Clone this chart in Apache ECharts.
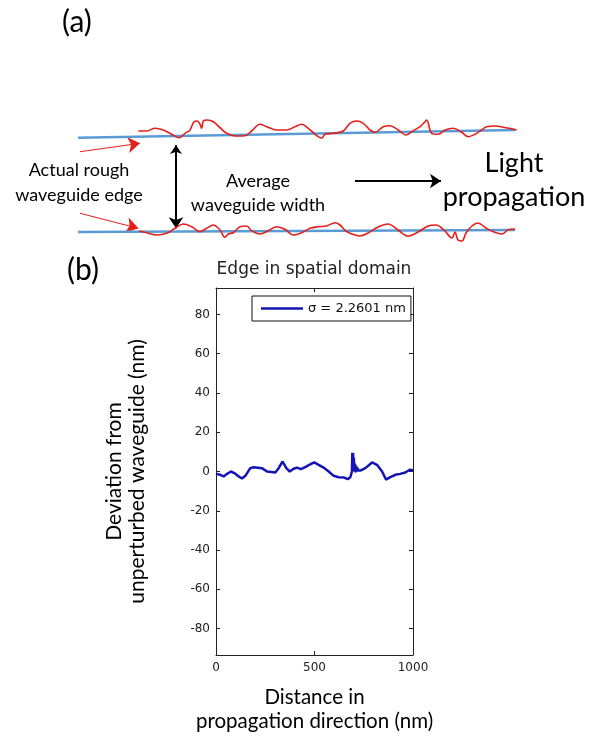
<!DOCTYPE html>
<html><head><meta charset="utf-8">
<script src="https://cdn.jsdelivr.net/npm/echarts@6/dist/echarts.min.js"></script>
<style>html,body{margin:0;padding:0;background:#fff}#c{width:590px;height:741px}</style>
</head><body><div id="c"></div>
<script>
// ---- panel (b) data: edge deviation vs distance ----
const distanceNm = [0,22,39,56,76,93,115,132,149,174,191,233,259,301,318,338,357,374,394,411,431,453,479,499,521,546,572,597,622,648,668,682,688,690,692,694,696,698,700,702,705,708,711,714,718,722,733,758,792,817,843,863,885,910,935,961,983,1000];
const deviationNm = [-1.2,-1.7,-2.5,-1.2,0,-0.8,-2.5,-3.6,-2.2,1.7,2.2,1.7,0,-0.5,1.7,5.1,1.7,0,1.4,2.0,1.2,2.2,3.7,4.6,3.4,2.0,0,-2.2,-2.9,-3.0,-3.9,-2.9,-2,0,9.5,0.5,9.5,1,7,0,4,-0.5,3,0,2,0.5,0.5,1.7,4.6,3.4,0,-4.1,-2.9,-1.7,-1.2,-0.5,0.9,0.6];
const yTicks = [-80,-60,-40,-20,0,20,40,60,80];
const xTicks = [0,500,1000];
const legendLabel = 'σ = 2.2601 nm';

// ---- panel (a) schematic data (diagram units) ----
const topAverage = [[78,137.7],[515,130]];
const bottomAverage = [[78,232],[515,230]];
const topRough = [[138.3,131],[146.7,131],[155,128.3],[163.3,130],[171.7,134.3],[179.3,137.7],[185,133.3],[190,130],[194,121.7],[197.3,121],[200,124.3],[201.7,128.3],[203.3,121],[207.3,120],[213.3,121.7],[220,127.7],[226.7,133.3],[235,136],[245,135.7],[251.7,131],[260,124.3],[266.7,126.7],[276.7,130],[286.7,130],[295,126.7],[301.7,124.3],[308.3,128.3],[316.7,135.7],[321.7,138.3],[325,134.3],[333.3,133.3],[343.3,131],[350,123.3],[356.7,121],[363.3,123.3],[370,130],[375,132.3],[383.3,126.7],[390,125.7],[398.3,130],[406,135],[411.7,131.7],[420,126.7],[425,121.7],[426.7,120],[431.7,133.3],[438.3,134.3],[445,130],[453.3,128.3],[461.7,132.3],[468.3,136.7],[475,134.3],[481.7,130],[486.7,126.7],[495,126],[503.3,127.3],[516.7,130]];
const bottomRough = [[139,231],[146.7,232.7],[156.7,235],[166.7,233.3],[175,228.3],[183.3,224],[191.7,226.7],[200,231.7],[206.7,228.3],[213.3,225],[220,230],[225,237.3],[228.3,234],[233.3,232.7],[240,226.7],[246.7,226],[251.7,230.7],[260,234],[268.3,230.7],[276.7,226.7],[285,229.3],[293.3,235],[301.7,232.7],[310,228.3],[318.3,226.7],[326.7,226],[335,222.7],[340,225],[346.7,231.7],[355,235],[360,236],[368,233],[378,227],[388,224],[398,230],[408,236],[418,232],[428,226],[436,225],[444,230],[452,238],[455,232],[458,240],[462,241],[466,233],[472,226],[478,223],[486,228],[494,232],[502,234],[508,230],[515,229]];
const redArrows = [[[80,151.7],[140,143.3]],[[80,213.3],[138.3,228.3]]];
const widthArrow = [[176,145],[176,228.3]];
const propArrow = [[355,181],[441,181]];

const chart = echarts.init(document.getElementById('c'), null, {renderer:'canvas'});
const calib = 'Lato, "Open Sans", sans-serif';
const mat = '"DejaVu Sans", sans-serif';
const axisCol = '#222';

const option = {
  animation:false,
  backgroundColor:'#fff',
  grid:[
    {left:216, top:288, width:197, height:367},
    {left:0, top:0, width:590, height:260}
  ],
  xAxis:[
    {gridIndex:0, type:'value', min:0, max:1000, interval:500, position:'bottom',
     axisLine:{show:true, onZero:false, lineStyle:{color:axisCol, width:1}},
     axisTick:{show:true, inside:true, length:4, lineStyle:{color:axisCol}},
     axisLabel:{show:true, fontSize:12, fontFamily:mat, color:'#222', margin:7, showMinLabel:true, showMaxLabel:true, formatter:v=>String(v)},
     splitLine:{show:false},
     name:'Distance in\npropagation direction (nm)', nameLocation:'middle', nameGap:30,
     nameTextStyle:{fontFamily:calib, fontSize:20.5, color:'#000', lineHeight:24, verticalAlign:'top'}
    },
    {gridIndex:0, type:'value', min:0, max:1000, interval:500, position:'top',
     axisLine:{show:true, onZero:false, lineStyle:{color:axisCol, width:1}},
     axisTick:{show:true, inside:true, length:4, lineStyle:{color:axisCol}},
     axisLabel:{show:false}, splitLine:{show:false}},
    {gridIndex:1, type:'value', min:0, max:590, show:false}
  ],
  yAxis:[
    {gridIndex:0, type:'value', min:-93.5, max:93.5, position:'left',
     axisLine:{show:true, onZero:false, lineStyle:{color:axisCol, width:1}},
     axisTick:{show:true, inside:true, length:4, customValues:yTicks, lineStyle:{color:axisCol}},
     axisLabel:{show:true, customValues:yTicks, fontSize:12, fontFamily:mat, color:'#222', margin:6},
     splitLine:{show:false},
     name:'Deviation from\nunperturbed waveguide (nm)', nameLocation:'middle', nameGap:67, nameRotate:90,
     nameTextStyle:{fontFamily:calib, fontSize:21, color:'#000', lineHeight:23}
    },
    {gridIndex:0, type:'value', min:-93.5, max:93.5, position:'right',
     axisLine:{show:true, onZero:false, lineStyle:{color:axisCol, width:1}},
     axisTick:{show:true, inside:true, length:4, customValues:yTicks, lineStyle:{color:axisCol}},
     axisLabel:{show:false}, splitLine:{show:false}},
    {gridIndex:1, type:'value', min:0, max:260, inverse:true, show:false}
  ],
  legend:{
    data:[legendLabel], left:252, top:296, orient:'horizontal',
    padding:[6,5,6,9], borderColor:'#111', borderWidth:1, backgroundColor:'#fff',
    icon:'rect', itemWidth:42, itemHeight:2.5,
    textStyle:{fontFamily:mat, fontSize:13, color:'#111'}
  },
  graphic:[
    {type:'text', left:62, top:7, style:{text:'(a)', font:'30px Lato', fill:'#000'}},
    {type:'text', left:67, top:255, style:{text:'(b)', font:'30px Lato', fill:'#000'}},
    {type:'text', x:79, y:183, style:{text:'Actual rough\nwaveguide edge', font:'18px Lato', fill:'#000', align:'center', verticalAlign:'middle', lineHeight:25}},
    {type:'text', x:258, y:193, style:{text:'Average\nwaveguide width', font:'18px Lato', fill:'#000', align:'center', verticalAlign:'middle', lineHeight:24}},
    {type:'text', x:514, y:180, style:{text:'Light\npropagation', font:'27px Lato', fill:'#000', align:'center', verticalAlign:'middle', lineHeight:34}},
    {type:'text', x:314, y:270, style:{text:'Edge in spatial domain', font:'17px "DejaVu Sans"', fill:'#222', align:'center', verticalAlign:'middle'}}
  ],
  series:[
    {name:legendLabel, type:'line', xAxisIndex:0, yAxisIndex:0,
     data:distanceNm.map((d,i)=>[d,deviationNm[i]]), symbol:'none',
     lineStyle:{color:'#1414b4', width:2.5}, itemStyle:{color:'#1414b4'}, z:5, clip:true},
    {type:'line', xAxisIndex:2, yAxisIndex:2, data:topAverage, symbol:'none', lineStyle:{color:'#5b9bd5', width:2.5}, z:2, silent:true},
    {type:'line', xAxisIndex:2, yAxisIndex:2, data:bottomAverage, symbol:'none', lineStyle:{color:'#5b9bd5', width:2.5}, z:2, silent:true},
    {type:'line', xAxisIndex:2, yAxisIndex:2, data:topRough, symbol:'none', smooth:0.35, lineStyle:{color:'#e3201b', width:1.6}, z:3, silent:true},
    {type:'line', xAxisIndex:2, yAxisIndex:2, data:bottomRough, symbol:'none', smooth:0.35, lineStyle:{color:'#e3201b', width:1.6}, z:3, silent:true},
    {type:'lines', coordinateSystem:'cartesian2d', xAxisIndex:2, yAxisIndex:2, silent:true,
     symbol:['none','arrow'], symbolSize:[10,12],
     lineStyle:{color:'#e3201b', width:1, opacity:1, curveness:0},
     data:redArrows.map(c=>({coords:c}))},
    {type:'lines', coordinateSystem:'cartesian2d', xAxisIndex:2, yAxisIndex:2, silent:true,
     symbol:['arrow','arrow'], symbolSize:[9,11],
     lineStyle:{color:'#000', width:2, opacity:1, curveness:0},
     data:[{coords:widthArrow}]},
    {type:'lines', coordinateSystem:'cartesian2d', xAxisIndex:2, yAxisIndex:2, silent:true,
     symbol:['none','arrow'], symbolSize:[9,11],
     lineStyle:{color:'#000', width:2, opacity:1, curveness:0},
     data:[{coords:propArrow}]}
  ]
};
chart.setOption(option);
</script>
</body></html>
